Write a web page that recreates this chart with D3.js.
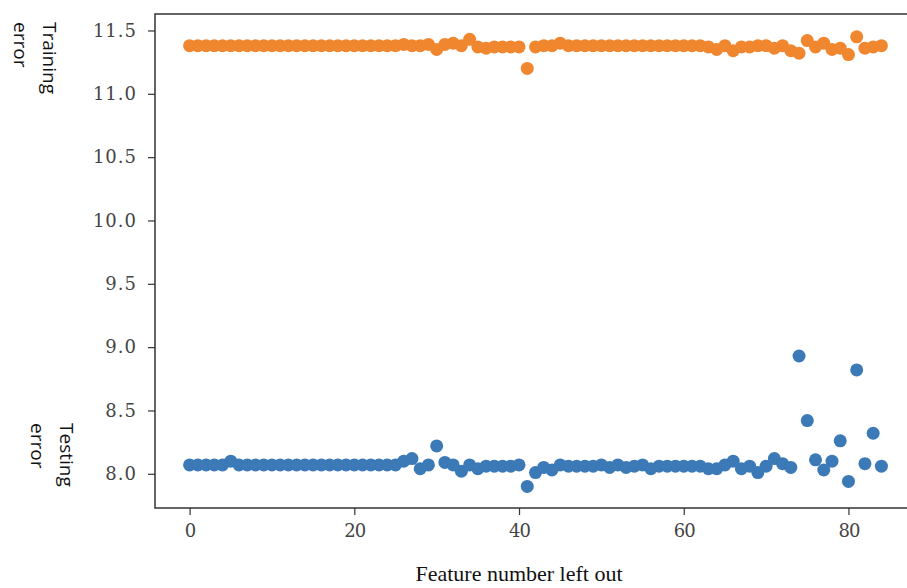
<!DOCTYPE html>
<html>
<head>
<meta charset="utf-8">
<script src="https://cdn.jsdelivr.net/npm/d3@7"></script>
<style>
  body { margin: 0; background: #fff; }
  .tick text { font-family: "DejaVu Serif", serif; font-size: 18px; fill: #444; letter-spacing: 1px; }
  .side-label { font-family: "Open Sans", "Liberation Sans", sans-serif; font-size: 19px; fill: #111; }
  .x-title { font-family: "Liberation Serif", "Times New Roman", serif; font-size: 22px; fill: #111; }
</style>
</head>
<body>
<svg id="chart"></svg>
<script>
// feature index 0..84 for both series
const features = d3.range(0, 85);

const trainingError = [
  11.38, 11.38, 11.38, 11.38, 11.38, 11.38, 11.38, 11.38, 11.38, 11.38,
  11.38, 11.38, 11.38, 11.38, 11.38, 11.38, 11.38, 11.38, 11.38, 11.38,
  11.38, 11.38, 11.38, 11.38, 11.38, 11.38, 11.39, 11.38, 11.38, 11.39,
  11.35, 11.39, 11.40, 11.38, 11.43, 11.37, 11.36, 11.37, 11.37, 11.37,
  11.37, 11.20, 11.37, 11.38, 11.38, 11.40, 11.38, 11.38, 11.38, 11.38,
  11.38, 11.38, 11.38, 11.38, 11.38, 11.38, 11.38, 11.38, 11.38, 11.38,
  11.38, 11.38, 11.38, 11.37, 11.35, 11.38, 11.34, 11.37, 11.37, 11.38,
  11.38, 11.36, 11.38, 11.34, 11.32, 11.42, 11.37, 11.40, 11.35, 11.36,
  11.31, 11.45, 11.36, 11.37, 11.38
];

const testingError = [
  8.07, 8.07, 8.07, 8.07, 8.07, 8.10, 8.07, 8.07, 8.07, 8.07,
  8.07, 8.07, 8.07, 8.07, 8.07, 8.07, 8.07, 8.07, 8.07, 8.07,
  8.07, 8.07, 8.07, 8.07, 8.07, 8.07, 8.10, 8.12, 8.04, 8.07,
  8.22, 8.09, 8.07, 8.02, 8.07, 8.04, 8.06, 8.06, 8.06, 8.06,
  8.07, 7.90, 8.01, 8.05, 8.03, 8.07, 8.06, 8.06, 8.06, 8.06,
  8.07, 8.05, 8.07, 8.05, 8.06, 8.07, 8.04, 8.06, 8.06, 8.06,
  8.06, 8.06, 8.06, 8.04, 8.04, 8.07, 8.10, 8.04, 8.06, 8.01,
  8.06, 8.12, 8.08, 8.05, 8.93, 8.42, 8.11, 8.03, 8.10, 8.26,
  7.94, 8.82, 8.08, 8.32, 8.06
];

const xTicks = [0, 20, 40, 60, 80];
const yTicks = [8.0, 8.5, 9.0, 9.5, 10.0, 10.5, 11.0, 11.5];

const colorLUT = ["#3b79b7", "#f0872f"];

function drawChart() {
  var width = 907, height = 588;
  var svg = d3.select("#chart").attr("width", width).attr("height", height);

  var xScale = d3.scaleLinear().domain([-4.2, 88.2]).range([155, 916]);
  var yScale = d3.scaleLinear().domain([7.73, 11.63]).range([508, 14]);

  // x axis
  var xAxis = svg.append("g")
    .attr("transform", "translate(0," + 508 + ")")
    .call(d3.axisBottom(xScale).tickValues(xTicks).tickFormat(d3.format("d")).tickSize(7).tickPadding(9));
  xAxis.select(".domain").remove();
  xAxis.selectAll(".tick text").style("letter-spacing", "-1px");

  // y axis
  var yAxis = svg.append("g")
    .attr("transform", "translate(155,0)")
    .call(d3.axisLeft(yScale).tickValues(yTicks).tickFormat(d3.format(".1f")).tickSize(7).tickPadding(11));
  yAxis.select(".domain").remove();

  svg.selectAll(".tick line").attr("stroke", "#333").attr("stroke-width", 1.2);

  // frame
  svg.append("rect")
    .attr("x", 155).attr("y", 14)
    .attr("width", 916 - 155).attr("height", 508 - 14)
    .attr("fill", "none").attr("stroke", "#333").attr("stroke-width", 1.5);

  var series = [trainingError, testingError];
  var order = [1, 0];
  order.forEach(function(s) {
    svg.append("g").selectAll("circle")
      .data(series[s])
      .enter().append("circle")
      .attr("cx", function(d, i) { return xScale(features[i]); })
      .attr("cy", function(d) { return yScale(d); })
      .attr("r", 6.5)
      .attr("fill", colorLUT[s === 0 ? 1 : 0]);
  });

  // side labels, rotated to read top to bottom
  function sideLabel(lines, x, y) {
    var t = svg.append("text")
      .attr("class", "side-label")
      .attr("transform", "translate(" + x + "," + y + ") rotate(90)");
    lines.forEach(function(line, i) {
      t.append("tspan").attr("x", 0).attr("dy", i === 0 ? 0 : 29).text(line);
    });
  }
  sideLabel(["Training", "error"], 43, 22);
  sideLabel(["Testing", "error"], 60, 423);

  svg.append("text")
    .attr("class", "x-title")
    .attr("x", 519).attr("y", 581)
    .style("text-anchor", "middle")
    .text("Feature number left out");
}

drawChart();
</script>
</body>
</html>
